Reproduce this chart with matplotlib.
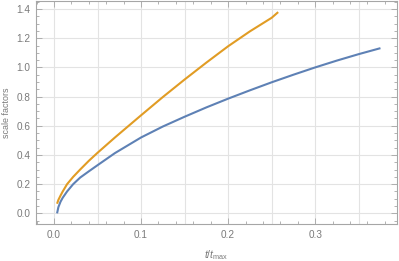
import matplotlib
matplotlib.use("Agg")
import matplotlib.pyplot as plt
import numpy as np
from matplotlib.ticker import MultipleLocator

# values
t_blue = [0.0035, 0.005, 0.0075, 0.01, 0.015, 0.022, 0.03, 0.04, 0.05, 0.07,
          0.1, 0.125, 0.15, 0.175, 0.2, 0.225, 0.25, 0.275, 0.3, 0.325, 0.35, 0.375]
a_blue = [0.0, 0.042, 0.08, 0.107, 0.15, 0.2, 0.245, 0.288, 0.33, 0.413,
          0.52, 0.595, 0.662, 0.726, 0.786, 0.843, 0.898, 0.95, 1.0, 1.047, 1.091, 1.132]

t_orange = [0.0035, 0.005, 0.0075, 0.01, 0.015, 0.022, 0.03, 0.04, 0.05, 0.07,
            0.1, 0.125, 0.15, 0.175, 0.2, 0.225, 0.25, 0.2575]
a_orange = [0.066, 0.092, 0.122, 0.15, 0.20, 0.25, 0.30, 0.36, 0.415, 0.52,
            0.672, 0.797, 0.917, 1.033, 1.145, 1.247, 1.34, 1.379]

BLUE = "#5E81B5"
ORANGE = "#E19C24"
FRAME = "#a6a6a6"
LABEL = "#7a7a7a"

plt.rcParams["font.family"] = ["Liberation Sans", "DejaVu Sans"]
plt.rcParams["mathtext.fontset"] = "custom"
plt.rcParams["mathtext.rm"] = "Liberation Sans"
plt.rcParams["mathtext.it"] = "Liberation Sans:italic"

fig = plt.figure(figsize=(3.99, 2.61), dpi=100)
ax = fig.add_axes([0.0902, 0.1406, 0.9048, 0.8555])

for xg in np.arange(0.0, 0.40, 0.05):
    ax.axvline(xg, color="#e3e3e3", lw=0.8, zorder=0)
for yg in np.arange(0.0, 1.45, 0.2):
    ax.axhline(yg, color="#e3e3e3", lw=0.8, zorder=0)

ax.plot(t_blue, a_blue, color=BLUE, lw=1.5, solid_capstyle="butt")
ax.plot(t_orange, a_orange, color=ORANGE, lw=1.5, solid_capstyle="butt")

ax.set_xlim(-0.0207, 0.394)
ax.set_ylim(-0.075, 1.455)

ax.xaxis.set_major_locator(MultipleLocator(0.1))
ax.xaxis.set_minor_locator(MultipleLocator(0.02))
ax.yaxis.set_major_locator(MultipleLocator(0.2))
ax.yaxis.set_minor_locator(MultipleLocator(0.05))
ax.xaxis.set_major_formatter(lambda v, p: f"{v:.1f}")
ax.yaxis.set_major_formatter(lambda v, p: f"{v:.1f}")

ax.tick_params(which="both", direction="in", top=True, right=True,
               color=FRAME, labelcolor=LABEL, labelsize=7.2, width=0.6)
ax.tick_params(which="major", length=4, pad=4)
ax.tick_params(which="minor", length=2.2)
for s in ax.spines.values():
    s.set_color(FRAME)
    s.set_linewidth(0.8)

ax.set_xlabel(r"$t/t_{\mathrm{max}}$", color=LABEL, fontsize=7.5, labelpad=6)
ax.set_ylabel("scale factors", color=LABEL, fontsize=6.4, labelpad=4)

fig.savefig("out.png", dpi=100)
